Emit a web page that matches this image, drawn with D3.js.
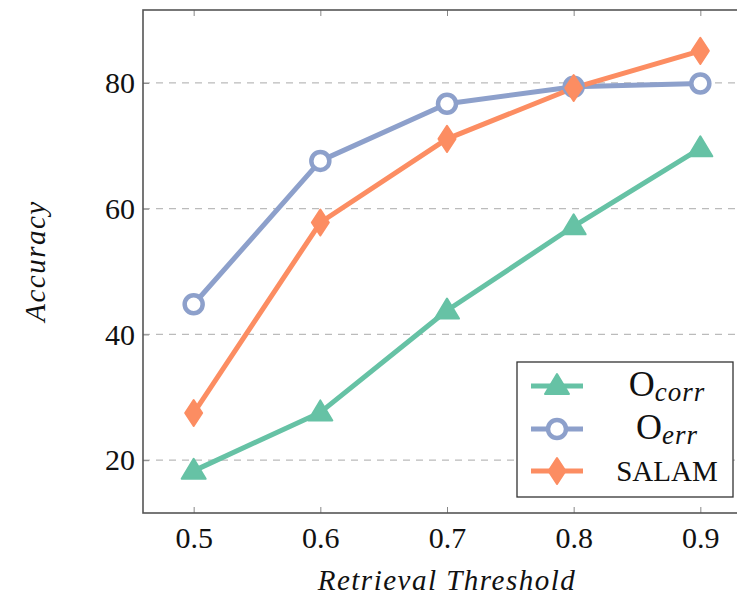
<!DOCTYPE html>
<html><head><meta charset="utf-8">
<script src="https://cdn.jsdelivr.net/npm/d3@7"></script>
<style>body{margin:0;background:#fff}svg{display:block}</style>
</head><body>
<script>
const thresholds = [0.5, 0.6, 0.7, 0.8, 0.9];
const ocorr = [18.3, 27.6, 43.8, 57.2, 69.6];
const oerr = [44.8, 67.6, 76.7, 79.4, 79.9];
const salam = [27.5, 57.8, 71.1, 79.2, 85.1];
const yTicks = [20, 40, 60, 80];
const xTickLabels = ["0.5", "0.6", "0.7", "0.8", "0.9"];

const W = 737, H = 598;
const svg = d3.select("body").append("svg").attr("width", W).attr("height", H);
const L = 143, R = 751, T = 10, B = 513;
const x = d3.scaleLinear().domain([0.46, 0.94]).range([L, R]);
const y = d3.scaleLinear().domain([11.6, 91.6]).range([B, T]);
const font = "'Liberation Serif', 'Times New Roman', serif";
const frameCol = "#555";

// grid
svg.append("g").selectAll("line").data(yTicks).join("line")
  .attr("x1", L).attr("x2", R).attr("y1", d => y(d)).attr("y2", d => y(d))
  .attr("stroke", "#bbb").attr("stroke-width", 1.2).attr("stroke-dasharray", "7,6");

// axes with inward ticks
const xAxisB = d3.axisBottom(x).tickValues(thresholds).tickFormat((d,i)=>xTickLabels[i]).tickSize(-6).tickPadding(12);
const gxb = svg.append("g").attr("transform", `translate(0,${B})`).call(xAxisB);
const xAxisT = d3.axisTop(x).tickValues(thresholds).tickFormat("").tickSize(-6);
const gxt = svg.append("g").attr("transform", `translate(0,${T})`).call(xAxisT);
const yAxisL = d3.axisLeft(y).tickValues(yTicks).tickSize(-6).tickPadding(8);
const gyl = svg.append("g").attr("transform", `translate(${L},0)`).call(yAxisL);
[gxb, gxt, gyl].forEach(g => {
  g.select(".domain").remove();
  g.selectAll(".tick line").attr("stroke", "#888").attr("stroke-width", 1);
  g.selectAll(".tick text").attr("fill", "#111").style("font-family", font).style("font-size", "30px");
});
gxb.selectAll(".tick text").attr("dy", "0.75em");
// frame
svg.append("rect").attr("x", L).attr("y", T).attr("width", R - L).attr("height", B - T)
  .attr("fill", "none").attr("stroke", frameCol).attr("stroke-width", 1.6);

// axis labels
svg.append("text").attr("x", 447).attr("y", 590).attr("text-anchor", "middle")
  .style("font-family", font).style("font-style", "italic").style("font-size", "29px").style("letter-spacing", "1.5px").attr("fill", "#111")
  .text("Retrieval Threshold");
svg.append("text").attr("transform", "translate(45,261) rotate(-90)").attr("text-anchor", "middle")
  .style("font-family", font).style("font-style", "italic").style("font-size", "29px").style("letter-spacing", "1.5px").attr("fill", "#111")
  .text("Accuracy");

const series = [
  {name: "corr", vals: ocorr, color: "#66c2a5", marker: "tri"},
  {name: "err", vals: oerr, color: "#8da0cb", marker: "circ"},
  {name: "SALAM", vals: salam, color: "#fc8d62", marker: "dia"}
];
const line = d3.line().x((d,i) => x(thresholds[i])).y(d => y(d));

function drawMarker(g, type, cx, cy, color) {
  if (type === "tri") {
    g.append("path").attr("transform", `translate(${cx},${cy})`)
      .attr("d", "M0,-12 L12,8 L-12,8 Z").attr("fill", color).attr("stroke", color).attr("stroke-width", 2).attr("stroke-linejoin", "round");
  } else if (type === "circ") {
    g.append("circle").attr("cx", cx).attr("cy", cy).attr("r", 9)
      .attr("fill", "#fff").attr("stroke", color).attr("stroke-width", 4.5);
  } else {
    g.append("path").attr("transform", `translate(${cx},${cy})`)
      .attr("d", "M0,-13 L8.5,0 L0,13 L-8.5,0 Z").attr("fill", color).attr("stroke", color).attr("stroke-width", 2).attr("stroke-linejoin", "round");
  }
}

const plot = svg.append("g");
series.forEach(s => {
  plot.append("path").datum(s.vals).attr("d", line).attr("fill", "none")
    .attr("stroke", s.color).attr("stroke-width", 5).attr("stroke-linejoin", "round");
});
series.forEach(s => {
  s.vals.forEach((v,i) => drawMarker(plot, s.marker, x(thresholds[i]), y(v), s.color));
});

// legend
const lg = svg.append("g");
lg.append("rect").attr("x", 517).attr("y", 362).attr("width", 216).attr("height", 135)
  .attr("fill", "#fff").attr("stroke", "#333").attr("stroke-width", 1.3);
const rows = [386, 429, 471];
series.forEach((s, i) => {
  const yy = rows[i];
  lg.append("line").attr("x1", 531).attr("x2", 583).attr("y1", yy).attr("y2", yy)
    .attr("stroke", s.color).attr("stroke-width", 5);
  drawMarker(lg, s.marker, 557, yy, s.color);
  const t = lg.append("text").attr("x", 667).attr("y", yy + 10).attr("text-anchor", "middle")
    .style("font-family", font).style("font-size", "29px").attr("fill", "#111");
  if (i < 2) {
    t.append("tspan").style("font-size", "36px").text("O");
    t.append("tspan").attr("dy", 5).style("font-style", "italic").style("font-size", "27px").style("letter-spacing", "1px").text(s.name);
  } else {
    t.text("SALAM");
  }
});
</script>
</body></html>
